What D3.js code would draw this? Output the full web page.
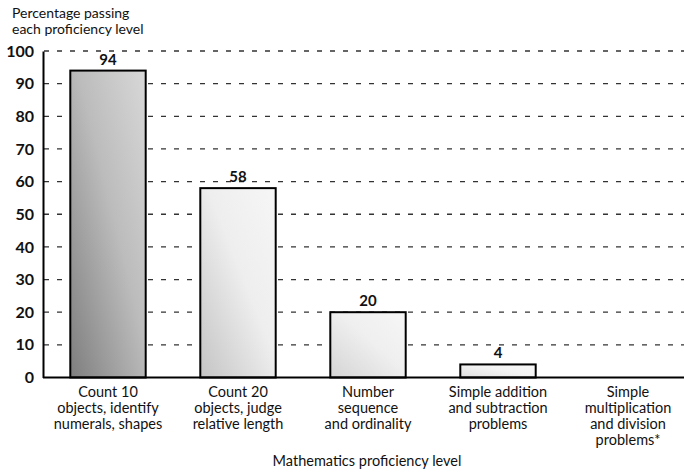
<!DOCTYPE html>
<html>
<head>
<meta charset="utf-8">
<script src="https://cdn.jsdelivr.net/npm/d3@7"></script>
<style>
  html, body { margin: 0; padding: 0; background: #fff; }
  svg { display: block; }
  text { font-family: Lato, "Open Sans", sans-serif; fill: #111; }
</style>
</head>
<body>
<svg id="chart" width="684" height="472"></svg>
<script>
const categories = [
  ["Count 10", "objects, identify", "numerals, shapes"],
  ["Count 20", "objects, judge", "relative length"],
  ["Number", "sequence", "and ordinality"],
  ["Simple addition", "and subtraction", "problems"],
  ["Simple", "multiplication", "and division", "problems*"]
];
const values = [94, 58, 20, 4, null];
const yTicks = [0, 10, 20, 30, 40, 50, 60, 70, 80, 90, 100];
const yTitle = ["Percentage passing", "each proficiency level"];
const xTitle = "Mathematics proficiency level";
const barShades = [
  ["#7e7e7e", "#bcbcbc", "#d8d8d8"],
  ["#c4c4c4", "#eeeeee", "#f6f6f6"],
  ["#d4d4d4", "#efefef", "#f6f6f6"],
  ["#dedede", "#f3f3f3", "#f8f8f8"],
  ["#eee", "#fff", "#fff"]
];

const svg = d3.select("#chart");
const mLeft = 43, mRight = 693, mTop = 51, mBottom = 377.5;

const x = d3.scaleBand()
  .domain(d3.range(categories.length))
  .range([mLeft, mRight])
  .paddingInner(0.42)
  .paddingOuter(0.21);

const y = d3.scaleLinear().domain([0, 100]).range([mBottom, mTop]);

// gradients
const defs = svg.append("defs");
barShades.forEach((s, i) => {
  const g = defs.append("linearGradient")
    .attr("id", "g" + i)
    .attr("x1", "0").attr("y1", "1").attr("x2", "1").attr("y2", "0");
  g.append("stop").attr("offset", "0%").attr("stop-color", s[0]);
  g.append("stop").attr("offset", "55%").attr("stop-color", s[1]);
  g.append("stop").attr("offset", "100%").attr("stop-color", s[2]);
});

// gridlines
svg.append("g")
  .selectAll("line")
  .data(yTicks.filter(d => d > 0))
  .join("line")
  .attr("x1", mLeft + 1)
  .attr("x2", 684)
  .attr("y1", d => y(d))
  .attr("y2", d => y(d))
  .attr("stroke", "#333")
  .attr("stroke-width", 1.3)
  .attr("stroke-dasharray", "5,8");

// bars
const barData = values.map((v, i) => ({ v, i })).filter(d => d.v !== null);
svg.append("g")
  .selectAll("rect")
  .data(barData)
  .join("rect")
  .attr("x", d => x(d.i))
  .attr("y", d => y(d.v))
  .attr("width", x.bandwidth())
  .attr("height", d => y(0) - y(d.v))
  .attr("fill", d => `url(#g${d.i})`)
  .attr("stroke", "#000")
  .attr("stroke-width", 2);

// value labels
svg.append("g")
  .selectAll("text")
  .data(barData)
  .join("text")
  .attr("x", d => x(d.i) + x.bandwidth() / 2)
  .attr("y", d => y(d.v) - 6)
  .attr("text-anchor", "middle")
  .attr("font-size", 15)
  .attr("font-weight", 700)
  .text(d => d.v);

// y axis
const yAxis = d3.axisLeft(y).tickValues(yTicks).tickSize(0).tickPadding(9);
const ya = svg.append("g").attr("transform", `translate(${mLeft},0)`).call(yAxis);
ya.select(".domain").attr("stroke", "#000").attr("stroke-width", 2);
ya.selectAll("text")
  .attr("font-size", 16)
  .attr("font-weight", 700)
  .attr("font-family", "Lato, sans-serif")
  .attr("fill", "#111");

// x axis baseline
const xAxis = d3.axisBottom(x).tickSize(0).tickFormat("");
const xa = svg.append("g").attr("transform", `translate(0,${mBottom})`).call(xAxis);
xa.select(".domain").attr("d", `M${mLeft},0H684`).attr("stroke", "#000").attr("stroke-width", 2.2);

// category labels
const catG = svg.append("g")
  .selectAll("text")
  .data(categories)
  .join("text")
  .attr("text-anchor", "middle")
  .attr("font-size", 14.5)
  .attr("font-weight", 400)
  .attr("transform", (d, i) => `translate(${x(i) + x.bandwidth() / 2},397)`);
catG.selectAll("tspan")
  .data(d => d)
  .join("tspan")
  .attr("x", 0)
  .attr("dy", (d, j) => j === 0 ? 0 : 16)
  .text(d => d);

// y title
svg.append("text")
  .attr("x", 12)
  .attr("y", 18)
  .attr("font-size", 14)
  .attr("font-weight", 400)
  .selectAll("tspan")
  .data(yTitle)
  .join("tspan")
  .attr("x", 12)
  .attr("dy", (d, j) => j === 0 ? 0 : 16)
  .text(d => d);

// x title
svg.append("text")
  .attr("x", 367)
  .attr("y", 466)
  .attr("text-anchor", "middle")
  .attr("font-size", 14.5)
  .attr("font-weight", 400)
  .text(xTitle);
</script>
</body>
</html>
